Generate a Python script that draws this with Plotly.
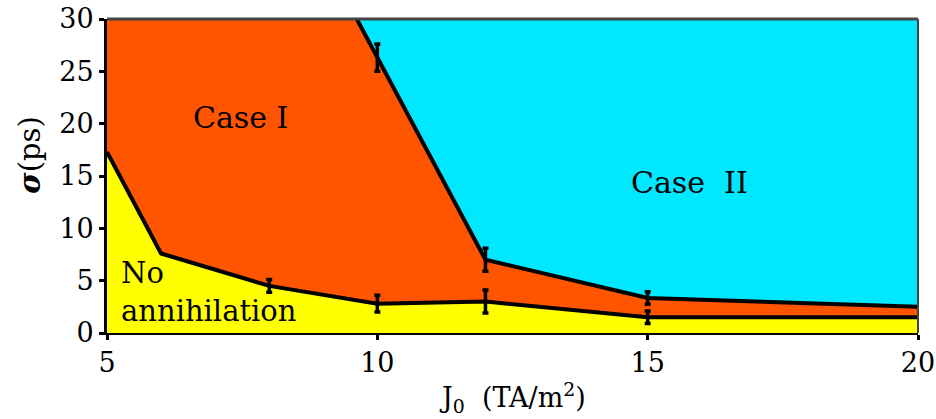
import plotly.graph_objects as go

# Phase boundaries: J0 (TA/m^2) vs sigma (ps)
lower_x = [5, 6, 8, 10, 12, 15, 20]
lower_y = [17.3, 7.6, 4.5, 2.8, 3.0, 1.5, 1.5]
lower_err_x = [8, 10, 12, 15]
lower_err_y = [4.5, 2.8, 3.0, 1.5]
lower_err = [0.6, 0.8, 1.1, 0.6]

upper_x = [9.62, 10, 12, 15, 20]
upper_y = [30, 26.3, 7.0, 3.35, 2.5]
upper_err_x = [10, 12, 15]
upper_err_y = [26.3, 7.0, 3.35]
upper_err = [1.3, 1.1, 0.6]

x_ticks = [5, 10, 15, 20]
y_ticks = [0, 5, 10, 15, 20, 25, 30]

ORANGE = "#FF5500"
CYAN = "#00E8FF"
YELLOW = "#FFFF00"
FONT = "'DejaVu Serif', serif"

fig = go.Figure()

# Case I region: everything under the upper boundary (closed at the top-left corner)
fig.add_trace(go.Scatter(
    x=[lower_x[0]] + upper_x, y=[30] + upper_y,
    mode="none", fill="tozeroy", fillcolor=ORANGE, hoverinfo="skip"))
# No-annihilation region under the lower boundary
fig.add_trace(go.Scatter(
    x=lower_x, y=lower_y, mode="none", fill="tozeroy",
    fillcolor=YELLOW, hoverinfo="skip"))

# Boundary lines
for xs, ys in [(lower_x, lower_y), (upper_x, upper_y)]:
    fig.add_trace(go.Scatter(x=xs, y=ys, mode="lines",
                             line=dict(color="black", width=4)))

# Error bars
for xs, ys, es in [(lower_err_x, lower_err_y, lower_err),
                   (upper_err_x, upper_err_y, upper_err)]:
    fig.add_trace(go.Scatter(
        x=xs, y=ys, mode="markers", marker=dict(size=1, opacity=0),
        error_y=dict(type="data", array=es, color="black",
                     thickness=3.5, width=3)))

fig.add_annotation(x=7.46, y=20.6, text="Case I", showarrow=False,
                   font=dict(family=FONT, size=30, color="black"))
fig.add_annotation(x=15.78, y=14.4, text="Case  II", showarrow=False,
                   font=dict(family=FONT, size=30, color="black"))
fig.add_annotation(x=5.22, y=3.9, text="No<br>annihilation", showarrow=False,
                   xanchor="left", align="left",
                   font=dict(family=FONT, size=29, color="black"))

# Axis titles
fig.add_annotation(xref="paper", yref="paper", x=0.5, y=-0.205,
                   text="J<sub>0</sub>  (TA/m<sup>2</sup>)", showarrow=False,
                   yanchor="middle",
                   font=dict(family=FONT, size=27, color="black"))
fig.add_annotation(xref="paper", yref="paper", x=-0.096, y=0.565,
                   text="<b><i>σ</i></b>(ps)", showarrow=False, textangle=-90,
                   xanchor="center", yanchor="middle",
                   font=dict(family=FONT, size=29, color="black"))

fig.update_layout(
    width=936, height=419,
    margin=dict(l=107, r=18, t=19, b=86),
    paper_bgcolor="white", plot_bgcolor=CYAN,
    showlegend=False,
    font=dict(family=FONT, size=27, color="black"),
    xaxis=dict(range=[5, 20], tickvals=x_ticks, ticks="outside",
               ticklen=5, tickwidth=3, tickcolor="black",
               tickfont=dict(family=FONT, size=27, color="black"),
               showgrid=False, zeroline=False, automargin=False,
               showline=True, linecolor="black", linewidth=2, mirror=False),
    yaxis=dict(range=[0, 30], tickvals=y_ticks, ticks="outside",
               ticklen=5, tickwidth=3, tickcolor="black",
               tickfont=dict(family=FONT, size=27, color="black"),
               showgrid=False, zeroline=False, automargin=False,
               showline=True, linecolor="black", linewidth=3, mirror=False),
)
fig.add_shape(type="line", xref="paper", yref="paper", x0=0, x1=1, y0=1, y1=1,
              line=dict(color="#444444", width=3))
fig.add_shape(type="line", xref="paper", yref="paper", x0=1, x1=1, y0=0, y1=1,
              line=dict(color="#444444", width=2))

fig.write_html("out.html")
